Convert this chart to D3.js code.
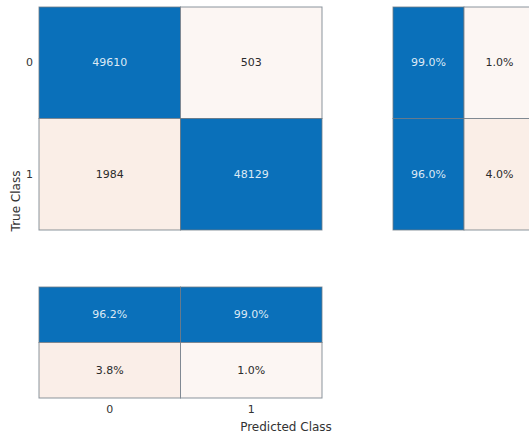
<!DOCTYPE html>
<html>
<head>
<meta charset="utf-8">
<script src="https://cdn.jsdelivr.net/npm/d3@7"></script>
<style>
  html, body { margin: 0; padding: 0; background: #fff; }
  svg text { font-family: "DejaVu Sans", sans-serif; }
</style>
</head>
<body>
<svg id="chart" width="529" height="434"></svg>
<script>
// Class labels and confusion counts (rows = true class, columns = predicted class)
const classes = ["0", "1"];
const counts = [
  [49610, 503],
  [1984, 48129]
];
// Row-normalized summary (percent of each true class)
const rowSummary = [
  [99.0, 1.0],
  [96.0, 4.0]
];
// Column-normalized summary (percent of each predicted class)
const colSummary = [
  [96.2, 99.0],
  [3.8, 1.0]
];

const svg = d3.select("#chart");
const blue = "#0a70ba";
const lightScale = d3.scaleLinear().domain([0, 5]).range(["#fdf9f7", "#f9ebe3"]).clamp(true);

const main = { x0: 39, x1: 322, y0: 7, y1: 230 };
const x = d3.scaleBand().domain(classes).range([main.x0, main.x1]);
const y = d3.scaleBand().domain(classes).range([main.y0, main.y1]);

function drawCells(g, cells, xs, ys) {
  g.selectAll("rect").data(cells).join("rect")
    .attr("x", d => xs(d.c)).attr("y", d => ys(d.r))
    .attr("width", xs.bandwidth()).attr("height", ys.bandwidth())
    .attr("fill", d => d.diag ? blue : lightScale(d.pct))
    .attr("stroke", "#6f7b86").attr("stroke-width", 1).attr("stroke-opacity", 0.8);
  g.selectAll("text").data(cells).join("text")
    .attr("x", d => xs(d.c) + xs.bandwidth() / 2)
    .attr("y", d => ys(d.r) + ys.bandwidth() / 2)
    .attr("text-anchor", "middle").attr("dominant-baseline", "central")
    .attr("font-size", 11)
    .attr("fill", d => d.diag ? "#dce9f5" : "#2b2b2b")
    .text(d => d.label);
}

// Confusion matrix
const rowTotals = counts.map(r => d3.sum(r));
const mainCells = [];
counts.forEach((row, i) => row.forEach((v, j) => mainCells.push({
  r: classes[i], c: classes[j], diag: i === j, pct: 100 * v / rowTotals[i], label: String(v)
})));
drawCells(svg.append("g"), mainCells, x, y);

// Row summary to the right
const rsX = d3.scaleBand().domain(["a", "b"]).range([393, 535]);
const rsCells = [];
rowSummary.forEach((row, i) => row.forEach((v, j) => rsCells.push({
  r: classes[i], c: j === 0 ? "a" : "b", diag: j === 0, pct: v, label: v.toFixed(1) + "%"
})));
drawCells(svg.append("g"), rsCells, rsX, y);

// Column summary below
const csY = d3.scaleBand().domain(["a", "b"]).range([287, 398]);
const csCells = [];
colSummary.forEach((row, i) => row.forEach((v, j) => csCells.push({
  r: i === 0 ? "a" : "b", c: classes[j], diag: i === 0, pct: v, label: v.toFixed(1) + "%"
})));
drawCells(svg.append("g"), csCells, x, csY);

// Axes
const yAxis = svg.append("g").attr("transform", `translate(${main.x0},0)`)
  .call(d3.axisLeft(y).tickSize(0).tickPadding(6));
yAxis.select(".domain").remove();
yAxis.selectAll("text").attr("font-size", 11).attr("fill", "#333").attr("font-family", "DejaVu Sans, sans-serif");

const xAxis = svg.append("g").attr("transform", `translate(0,398)`)
  .call(d3.axisBottom(x).tickSize(0).tickPadding(7));
xAxis.select(".domain").remove();
xAxis.selectAll("text").attr("font-size", 11).attr("fill", "#333").attr("font-family", "DejaVu Sans, sans-serif");

svg.append("text")
  .attr("transform", `translate(20,201) rotate(-90)`)
  .attr("text-anchor", "middle").attr("font-size", 12).attr("fill", "#333")
  .text("True Class");

svg.append("text")
  .attr("x", 286).attr("y", 431)
  .attr("text-anchor", "middle").attr("font-size", 12).attr("fill", "#333")
  .text("Predicted Class");
</script>
</body>
</html>
